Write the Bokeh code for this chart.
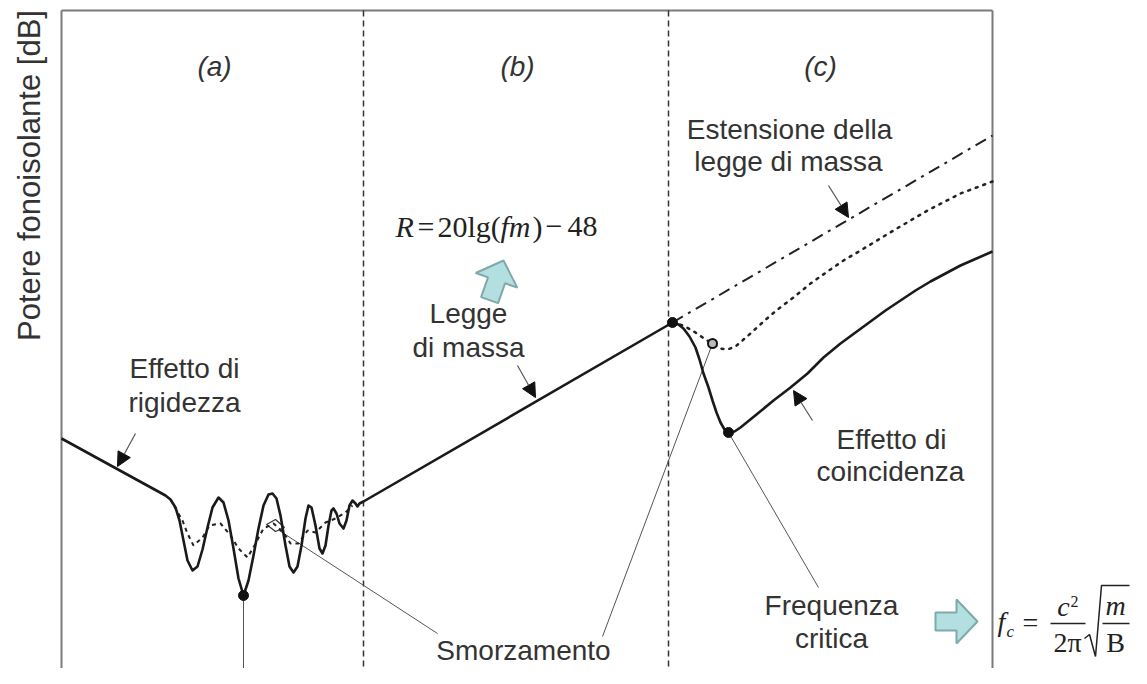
import math
from bokeh.plotting import figure
from bokeh.models import Range1d, Arrow, NormalHead
from bokeh.core.properties import value
from bokeh.embed import file_html
from bokeh.resources import INLINE

# ---------------- data (x: frequency position, y: level, image px, y downward)
# solid curve, regions (a)+(b): stiffness line, resonances, mass law
main_x = [61, 165, 170, 175, 179, 183, 187, 192, 197, 202, 207, 212, 218, 223, 228, 233, 238, 243,
          248, 253, 258, 263, 268, 272, 276, 280, 285, 289, 293, 297, 301, 305, 308, 311, 315, 319,
          322, 325, 328, 331, 333, 336, 339, 343, 346, 349, 352, 355, 357, 359, 363, 672]
main_y = [438, 495, 499, 507, 520, 540, 560, 570, 566, 549, 527, 507, 497, 502, 520, 548, 578, 595,
          580, 555, 528, 505, 494, 493, 498, 515, 545, 566, 572, 566, 545, 518, 505, 507, 525, 548,
          553, 545, 525, 510, 508, 513, 523, 528, 520, 505, 500, 503, 506, 503, 501, 322]

# damped resonance curve in region (a)
damp_a_x = [170, 175, 182, 187, 193, 202, 209, 220, 230, 238, 247, 254, 263, 273, 283, 290, 298,
            307, 315, 325, 335, 345, 352]
damp_a_y = [499, 508, 520, 533, 545, 537, 525, 523, 535, 548, 557, 545, 528, 523, 532, 543, 543,
            530, 532, 522, 518, 512, 505]

# coincidence dip (solid), region (c)
coin_x = [672, 678, 683, 689, 695, 699, 703, 708, 712, 716, 720, 724, 728, 734, 740, 756, 773, 790,
          807, 823, 840, 855, 870, 885, 900, 915, 930, 945, 960, 976, 992]
coin_y = [322, 324, 328, 336, 347, 359, 373, 387, 400, 412, 422, 429, 432, 431, 427, 414, 400, 387,
          373, 357, 343, 332, 321, 310, 300, 290, 281, 273, 265, 258, 251]

# damped coincidence dip (dotted), region (c)
coin_damp_x = [672, 683, 695, 705, 712, 720, 727, 735, 743, 750, 763, 777, 793, 810, 827, 843, 860,
               893, 927, 960, 992]
coin_damp_y = [322, 325, 332, 339, 343, 348, 349, 346, 339, 333, 321, 309, 297, 283, 271, 260, 250,
               230, 210, 193, 181]

# extension of the mass law (dash-dot)
ext_x = [672, 992]
ext_y = [322, 135]

# region boundaries
bound_x = [363, 668]

# marked points
dot_x = [243, 672, 728]
dot_y = [595, 322, 432]
ring_x = [712]
ring_y = [343]

region_labels = ["(a)", "(b)", "(c)"]
region_x = [214, 517, 820]
region_y = [76, 76, 76]

# annotation texts (x centre, y baseline)
note_text = ["Effetto di", "rigidezza", "Legge", "di massa", "Estensione della", "legge di massa",
             "Effetto di", "coincidenza", "Frequenza", "critica", "Smorzamento"]
note_x = [184, 184, 468, 468, 789, 788, 891, 890, 831, 831, 523]
note_y = [378, 412, 323, 357, 139, 171, 449, 481, 615, 648, 660]

# ---------------- figure
W, H = 1131, 668
p = figure(width=W, height=H, x_range=Range1d(0, W), y_range=Range1d(H, 0),
           output_backend="svg", toolbar_location=None, x_axis_type=None, y_axis_type=None,
           min_border=0, outline_line_color=None, background_fill_color="white",
           border_fill_color="white")

TXT = "#333333"
SANS = value("Liberation Sans")
SERIF = value("Liberation Serif")


def put_text(xs, ys, txt, font=SANS, size=28, italic=False, align="center", color=TXT):
    # ys are baselines; drawn with a 'middle' anchor
    mids = [y - 0.34 * size for y in ys]
    p.text(x=xs, y=mids, text=txt, text_font=font, text_font_size=f"{size}px",
           text_font_style="italic" if italic else "normal", text_align=align,
           text_baseline="middle", text_color=color)


# frame
p.segment(x0=[61, 61, 992], y0=[10, 10, 10], x1=[61, 992, 992], y1=[H, 10, H],
          line_color="#7a7a7a", line_width=2)
# region boundaries
p.segment(x0=bound_x, y0=[10, 10], x1=bound_x, y1=[H, H], line_color="#333333",
          line_width=1.5, line_dash="6 4")

# thin leader lines
p.segment(x0=[243, 268, 602, 728], y0=[595, 523, 636, 432], x1=[243, 437, 712, 818],
          y1=[H, 633, 343, 587], line_color="#555555", line_width=1)
p.patch(x=[266, 275, 284, 275], y=[524, 519, 527, 531], fill_color="white", line_color="#333333",
        line_width=1.2)

# curves
p.line(damp_a_x, damp_a_y, line_color="#222222", line_width=2, line_dash="4 4")
p.line(coin_damp_x, coin_damp_y, line_color="#222222", line_width=2.5, line_dash="2 6",
       line_cap="round")
p.line(ext_x, ext_y, line_color="#222222", line_width=2, line_dash="12 6 3 6")
p.line(main_x, main_y, line_color="#1a1a1a", line_width=2.6, line_join="round")
p.line(coin_x, coin_y, line_color="#1a1a1a", line_width=2.6, line_join="round")

p.scatter(dot_x, dot_y, size=10, fill_color="#111111", line_color="#111111")
p.scatter(ring_x, ring_y, size=9, fill_color="#bbbbbb", line_color="#111111", line_width=2)

# arrows pointing to the curves
arrows = [((135, 433), (117, 466)), ((517, 365), (535, 397)), ((828, 185), (848, 217)),
          ((812, 420), (793, 390))]
for (xs, ys), (xe, ye) in arrows:
    p.add_layout(Arrow(end=NormalHead(size=14, fill_color="#111111", line_color="#111111"),
                       x_start=xs, y_start=ys, x_end=xe, y_end=ye, line_color="#555555",
                       line_width=1.2))


# cyan block arrows
def block_arrow(tip_x, tip_y, ang):
    shape = [(0, -9), (21, -9), (21, -22), (42, 0), (21, 22), (21, 9), (0, 9)]
    c, s = math.cos(ang), math.sin(ang)
    bx, by = tip_x - 42 * c, tip_y - 42 * s
    xs = [bx + u * c - v * s for u, v in shape]
    ys = [by + u * s + v * c for u, v in shape]
    return xs, ys


for tip, ang in [((503, 260), math.atan2(-18.5, 6.5)), ((977, 621), 0.0)]:
    ax, ay = block_arrow(tip[0], tip[1], ang)
    p.patch(ax, ay, fill_color="#b3dfe0", line_color="#7fa9aa", line_width=2)

# texts
put_text(region_x, region_y, region_labels, italic=True)
put_text(note_x, note_y, note_text)
p.text(x=[29], y=[175], text=["Potere fonoisolante [dB]"], angle=math.pi / 2, text_font=SANS,
       text_font_size="31px", text_align="center", text_baseline="middle", text_color=TXT)

# mass-law formula  R = 20lg(fm) - 48
FC = "#222222"
put_text([395], [236], ["R"], font=SERIF, size=30, italic=True, align="left", color=FC)
put_text([417, 437], [236, 236], ["=", "20lg("], font=SERIF, size=30, align="left", color=FC)
put_text([500], [236], ["fm"], font=SERIF, size=30, italic=True, align="left", color=FC)
put_text([532, 545, 567], [236, 236, 236], [")", "\u2212", "48"], font=SERIF, size=30,
         align="left", color=FC)

# critical frequency formula  fc = c^2/(2 pi) sqrt(m/B)
put_text([997], [631], ["f"], font=SERIF, size=28, italic=True, align="left", color=FC)
put_text([1006], [637], ["c"], font=SERIF, size=17, italic=True, align="left", color=FC)
put_text([1030], [632], ["="], font=SERIF, size=28, color=FC)
put_text([1063], [616], ["c"], font=SERIF, size=28, italic=True, color=FC)
put_text([1074], [606], ["2"], font=SERIF, size=16, color=FC)
put_text([1067, 1115], [652, 652], ["2\u03c0", "B"], font=SERIF, size=28, color=FC)
put_text([1115], [615], ["m"], font=SERIF, size=28, italic=True, color=FC)
p.segment(x0=[1050, 1102], y0=[623, 623], x1=[1085, 1129], y1=[623, 623], line_color=FC,
          line_width=1.5)
p.line([1084, 1089, 1095, 1101, 1129], [638, 634, 656, 585, 585], line_color=FC, line_width=1.5)

open("out.html", "w").write(file_html(p, INLINE))
